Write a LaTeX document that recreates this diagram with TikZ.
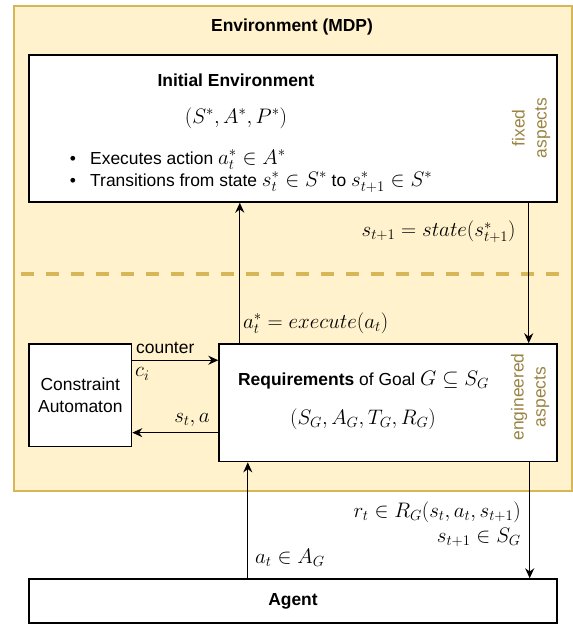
\RequirePackage{fix-cm}
\documentclass[tikz,border=0pt]{standalone}
\usepackage{fontspec}
\setmainfont{Liberation Sans}[Scale=0.83]
\usetikzlibrary{arrows.meta}

\definecolor{envfill}{HTML}{FFF2CC}
\definecolor{envline}{HTML}{D6B656}
\definecolor{aspecttext}{HTML}{9A8444}

\begin{document}
\begin{tikzpicture}[x=1pt, y=-1pt,
    every node/.style={font=\fontsize{21}{22}\selectfont, inner sep=0pt},
    envbox/.style={draw=envline, fill=envfill, line width=1.4pt},
    box/.style={draw=black, fill=white, line width=1.4pt},
    arr/.style={-{Stealth[length=10pt, width=9pt]}, line width=1.3pt},
    split/.style={draw=envline, line width=4pt, dash pattern=on 13pt off 12pt},
    aspect/.style={rotate=90, align=center, text=aspecttext, font=\fontsize{21}{22}\selectfont}]

    \useasboundingbox (0, 0) rectangle (573, 624);

    %%env
    \node[envbox, minimum width=558, minimum height=485] (env) at (293, 248.5) {};
        \node (envtitle) at (292, 27) {\textbf{Environment (MDP)}};
    \draw[split] (21, 274) to (573, 274);

    %%initial environment
    \node[box, minimum width=528, minimum height=147] (init) at (293, 128.5) {};
        \node (inittitle) at (236, 80) {\textbf{Initial Environment}};
        \node (inittuple) at (236, 118) {$(S^*, A^*, P^*)$};
        \node[anchor=base] (dot1) at (73, 164) {\textbullet};
        \node[anchor=base west, text depth=2pt] (item1) at (90, 164) {Executes action $a^*_t \in A^*$};
        \node[anchor=base] (dot2) at (73, 186) {\textbullet};
        \node[anchor=base west, text height=12pt] (item2) at (90, 186) {Transitions from state $s^*_t \in S^*$ to $s^*_{t+1} \in S^*$};
        \node[aspect] (fixed) at (531, 128) {fixed\\aspects};

    %%requirements
    \node[box, minimum width=338, minimum height=117.7] (req) at (388, 402.8) {};
        \node (reqtitle) at (363.5, 380) {\textbf{Requirements} of Goal $G \subseteq S_G$};
        \node (reqtuple) at (363, 419) {$(S_G, A_G, T_G, R_G)$};
        \node[aspect] (engineered) at (530, 397) {engineered\\aspects};

    %%constraint automaton
    \node[box, minimum width=102.6, minimum height=102.7, align=center] (ca) at (80.3, 395.3) {Constraint\\Automaton};

    %%agent
    \node[box, minimum width=528, minimum height=44] (agent) at (293, 601) {\textbf{Agent}};

    %%arrows
    \coordinate (up1) at ([xshift=21.5pt]req.north west);
    \draw[arr] (up1) to (up1 |- init.south);
        \node[anchor=west] (exec) at (243, 323) {$a^*_t = execute(a_t)$};
    \coordinate (dn1) at ([xshift=-29pt]init.south east);
    \draw[arr] (dn1) to (dn1 |- req.north);
        \node (stnext) at (438.6, 232) {$s_{t+1} = state(s^*_{t+1})$};

    \coordinate (ce) at ([yshift=-17pt]ca.north east);
    \draw[arr] (ce) to (ce -| req.west);
        \node[anchor=west] (counter) at (136, 348) {counter};
        \node[anchor=west] (ci) at (135, 374) {$c_i$};
    \coordinate (sa) at ([yshift=14.7pt]ca.south east);
    \draw[arr] (sa -| req.west) to (sa);
        \node (sta) at (192, 420) {$s_t, a$};

    \coordinate (up2) at ([xshift=219.5pt]agent.north west);
    \draw[arr] (up2) to (up2 |- req.south);
        \node[anchor=west] (act) at (255, 558) {$a_t \in A_G$};
    \coordinate (dn2) at ([xshift=-28pt]req.south east);
    \draw[arr] (dn2) to (dn2 |- agent.north);
        \node[anchor=east] (rew) at (521, 512) {$r_t \in R_G(s_t, a_t, s_{t+1})$};
        \node[anchor=east] (snext) at (521, 537) {$s_{t+1} \in S_G$};
\end{tikzpicture}
\end{document}
